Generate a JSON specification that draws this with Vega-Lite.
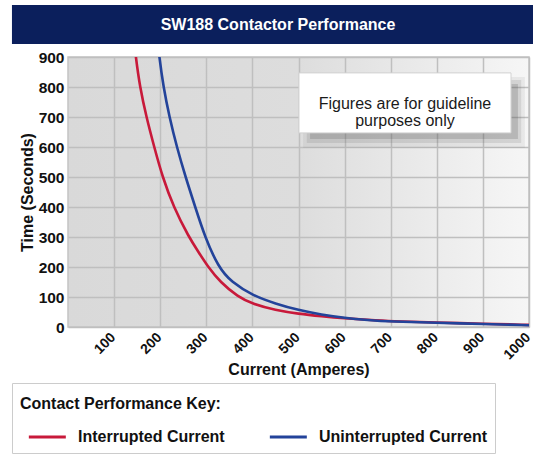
{
  "$schema": "https://vega.github.io/schema/vega-lite/v6.json",
  "background": "white",
  "padding": {"left": 10, "top": 5, "right": 0, "bottom": 0},
  "spacing": 5,
  "columns": 1,
  "config": {
    "font": "Liberation Sans",
    "view": {"stroke": null},
    "axisX": {
      "labelAngle": -45, "labelFontSize": 14, "labelFontWeight": "bold", "labelColor": "#111111",
      "labelPadding": 3, "labelOffset": -6, "labelFlush": false, "labelOverlap": false,
      "ticks": false, "domain": false,
      "grid": true, "gridColor": "#bfbfbf", "gridWidth": 1.5,
      "titleFontSize": 16, "titleFontWeight": "bold", "titleColor": "#111111", "titlePadding": 0
    },
    "axisY": {
      "labelFontSize": 15.5, "labelFontWeight": "bold", "labelColor": "#111111",
      "labelPadding": 4, "labelFlush": false, "labelOverlap": false,
      "ticks": false, "domain": false,
      "grid": true, "gridColor": "#bfbfbf", "gridWidth": 1.5,
      "titleFontSize": 16, "titleFontWeight": "bold", "titleColor": "#111111", "titlePadding": 3
    }
  },
  "resolve": {"scale": {"color": "independent"}, "legend": {"color": "independent"}},
  "concat": [
    {
      "width": 467,
      "height": 39,
      "view": {"fill": "#0b1f5c", "stroke": null},
      "data": {"values": [{"heading": "SW188 Contactor Performance"}]},
      "layer": [
        {
          "mark": {"type": "rect", "color": "#0b1f5c"},
          "encoding": {
            "x": {"datum": -0.12, "type": "quantitative", "scale": {"domain": [0, 1], "nice": false, "zero": false}, "axis": null},
            "x2": {"datum": 1}
          }
        },
        {
          "mark": {"type": "text", "color": "white", "fontSize": 16, "fontWeight": "bold", "dx": -23.5},
          "encoding": {"text": {"field": "heading"}}
        }
      ]
    },
    {
      "width": 461,
      "height": 270,
      "view": {
        "fill": {"gradient": "linear", "x1": 0, "y1": 0, "x2": 1, "y2": 0,
          "stops": [{"offset": 0, "color": "#d9d9d9"}, {"offset": 0.5, "color": "#dddddd"}, {"offset": 1, "color": "#f6f6f6"}]},
        "stroke": "#c4c4c4",
        "strokeWidth": 1.5
      },
      "layer": [
        {
          "data": {"values": [{"note": "Figures are for guideline\npurposes only"}]},
          "layer": [
            {
              "mark": {"type": "rect", "color": "#808080", "opacity": 0.12},
              "encoding": {
                "x": {"datum": 510, "type": "quantitative"},
                "x2": {"datum": 991},
                "y": {"datum": 833, "type": "quantitative"},
                "y2": {"datum": 597}
              }
            },
            {
              "mark": {"type": "rect", "color": "#6a6a6a", "opacity": 0.16},
              "encoding": {
                "x": {"datum": 518, "type": "quantitative"},
                "x2": {"datum": 983},
                "y": {"datum": 823, "type": "quantitative"},
                "y2": {"datum": 613}
              }
            },
            {
              "mark": {"type": "rect", "color": "#555555", "opacity": 0.22},
              "encoding": {
                "x": {"datum": 525, "type": "quantitative"},
                "x2": {"datum": 976},
                "y": {"datum": 810, "type": "quantitative"},
                "y2": {"datum": 627}
              }
            },
            {
              "mark": {"type": "rect", "fill": "white", "stroke": "#d2d2d2", "strokeWidth": 1},
              "encoding": {
                "x": {"datum": 501, "type": "quantitative"},
                "x2": {"datum": 961},
                "y": {"datum": 847, "type": "quantitative"},
                "y2": {"datum": 647}
              }
            },
            {
              "mark": {"type": "text", "fontSize": 16, "lineBreak": "\n", "lineHeight": 17, "color": "#1a1a1a", "align": "center", "baseline": "middle"},
              "encoding": {
                "x": {"datum": 731, "type": "quantitative"},
                "y": {"datum": 742, "type": "quantitative"},
                "text": {"field": "note"}
              }
            }
          ]
        },
        {
          "data": {
            "values": [
              {"current": 140, "time": 1000, "series": "Interrupted Current"},
              {"current": 147, "time": 900, "series": "Interrupted Current"},
              {"current": 156, "time": 800, "series": "Interrupted Current"},
              {"current": 170, "time": 700, "series": "Interrupted Current"},
              {"current": 187, "time": 600, "series": "Interrupted Current"},
              {"current": 205, "time": 500, "series": "Interrupted Current"},
              {"current": 229, "time": 400, "series": "Interrupted Current"},
              {"current": 262, "time": 300, "series": "Interrupted Current"},
              {"current": 283, "time": 250, "series": "Interrupted Current"},
              {"current": 304, "time": 200, "series": "Interrupted Current"},
              {"current": 330, "time": 150, "series": "Interrupted Current"},
              {"current": 369, "time": 100, "series": "Interrupted Current"},
              {"current": 400, "time": 77, "series": "Interrupted Current"},
              {"current": 450, "time": 56, "series": "Interrupted Current"},
              {"current": 500, "time": 44, "series": "Interrupted Current"},
              {"current": 550, "time": 36, "series": "Interrupted Current"},
              {"current": 600, "time": 29, "series": "Interrupted Current"},
              {"current": 650, "time": 24, "series": "Interrupted Current"},
              {"current": 700, "time": 19, "series": "Interrupted Current"},
              {"current": 800, "time": 15, "series": "Interrupted Current"},
              {"current": 900, "time": 11, "series": "Interrupted Current"},
              {"current": 1000, "time": 7, "series": "Interrupted Current"},
              {"current": 191, "time": 1000, "series": "Uninterrupted Current"},
              {"current": 198, "time": 900, "series": "Uninterrupted Current"},
              {"current": 207, "time": 800, "series": "Uninterrupted Current"},
              {"current": 220, "time": 700, "series": "Uninterrupted Current"},
              {"current": 236, "time": 600, "series": "Uninterrupted Current"},
              {"current": 255, "time": 500, "series": "Uninterrupted Current"},
              {"current": 276, "time": 400, "series": "Uninterrupted Current"},
              {"current": 297, "time": 300, "series": "Uninterrupted Current"},
              {"current": 326, "time": 200, "series": "Uninterrupted Current"},
              {"current": 354, "time": 150, "series": "Uninterrupted Current"},
              {"current": 402, "time": 104, "series": "Uninterrupted Current"},
              {"current": 450, "time": 78, "series": "Uninterrupted Current"},
              {"current": 500, "time": 56, "series": "Uninterrupted Current"},
              {"current": 550, "time": 41, "series": "Uninterrupted Current"},
              {"current": 600, "time": 30, "series": "Uninterrupted Current"},
              {"current": 650, "time": 23, "series": "Uninterrupted Current"},
              {"current": 700, "time": 18, "series": "Uninterrupted Current"},
              {"current": 800, "time": 14, "series": "Uninterrupted Current"},
              {"current": 900, "time": 10, "series": "Uninterrupted Current"},
              {"current": 1000, "time": 6, "series": "Uninterrupted Current"}
            ]
          },
          "mark": {"type": "line", "interpolate": "basis", "strokeWidth": 2.6, "clip": true},
          "encoding": {
            "x": {
              "field": "current", "type": "quantitative",
              "scale": {"domain": [0, 1000], "nice": false, "zero": false},
              "axis": {
                "values": [100, 200, 300, 400, 500, 600, 700, 800, 900, 1000],
                "format": "d",
                "title": "Current (Amperes)"
              }
            },
            "y": {
              "field": "time", "type": "quantitative",
              "scale": {"domain": [0, 900], "nice": false},
              "axis": {
                "values": [0, 100, 200, 300, 400, 500, 600, 700, 800, 900],
                "tickCount": 10,
                "labelOverlap": false,
                "title": "Time (Seconds)"
              }
            },
            "color": {
              "field": "series", "type": "nominal",
              "scale": {"domain": ["Interrupted Current", "Uninterrupted Current"], "range": ["#c8193a", "#23439a"]},
              "legend": {
                "orient": "none", "legendX": -56, "legendY": 326,
                "title": "Contact Performance Key:", "titleFontSize": 16, "titleFontWeight": "bold", "titleColor": "#111111",
                "titleAnchor": "start", "titlePadding": 22, "titleLimit": 400,
                "titleBaseline": "line-top", "titleLineHeight": 26,
                "direction": "horizontal", "columns": 2, "columnPadding": 36,
                "symbolType": "M-1,0H5", "symbolSize": 152, "symbolStrokeWidth": 3, "symbolOffset": 7,
                "labelFontSize": 16, "labelFontWeight": "bold", "labelColor": "#111111", "labelOffset": 35, "labelLimit": 300,
                "padding": 8, "strokeColor": "#cccccc", "fillColor": "white"
              }
            }
          }
        }
      ]
    }
  ]
}
